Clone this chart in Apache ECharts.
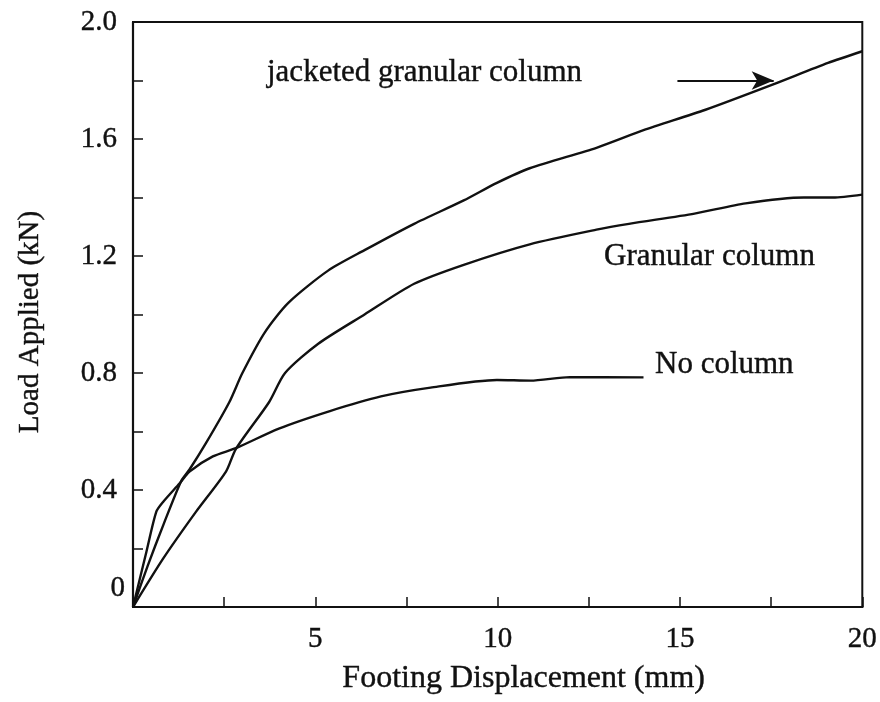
<!DOCTYPE html>
<html>
<head>
<meta charset="utf-8">
<script src="https://cdn.jsdelivr.net/npm/echarts@6/dist/echarts.min.js"></script>
<style>
html,body{margin:0;padding:0;background:#fff;}
#chart{width:880px;height:702px;}
</style>
</head>
<body>
<div id="chart"></div>
<script>
// Footing displacement (mm) / load applied (kN)
var jacketedX = [0, 0.4, 0.83, 1.32, 1.55, 2.0, 2.64, 3.0, 3.62, 4.26, 5.35, 6.35, 7.71, 9.07, 9.98, 10.88, 12.71, 14.0, 15.7, 17.52, 19.06, 20.0];
var jacketedY = [0, 0.14, 0.28, 0.43, 0.47, 0.56, 0.70, 0.80, 0.94, 1.04, 1.15, 1.22, 1.31, 1.39, 1.45, 1.50, 1.57, 1.63, 1.70, 1.785, 1.86, 1.90];

var granularX = [0, 0.83, 1.73, 2.55, 2.82, 3.73, 4.17, 5.08, 6.35, 7.71, 9.07, 10.88, 12.71, 13.6, 15.4, 16.8, 18.4, 19.2, 20.0];
var granularY = [0, 0.166, 0.326, 0.463, 0.54, 0.70, 0.80, 0.90, 1.00, 1.105, 1.17, 1.24, 1.29, 1.31, 1.345, 1.38, 1.40, 1.40, 1.41];

var noColumnX = [0, 0.37, 0.64, 0.83, 1.28, 1.55, 2.19, 2.82, 4.0, 5.4, 6.8, 8.16, 9.98, 10.9, 11.98, 14.0];
var noColumnY = [0, 0.19, 0.326, 0.36, 0.423, 0.463, 0.515, 0.543, 0.61, 0.67, 0.72, 0.75, 0.776, 0.774, 0.786, 0.785];

var seriesNames = ['jacketed granular column', 'Granular column', 'No column'];
var xTickLabels = ['5', '10', '15', '20'];
var yTickLabels = ['0', '0.4', '0.8', '1.2', '1.6', '2.0'];
var arrowFrom = [14.93, 1.80];
var arrowTo = [17.57, 1.80];

function pairs(xs, ys) { return xs.map(function (x, i) { return [x, ys[i]]; }); }

var FONT = '"Liberation Serif", "Times New Roman", serif';
var INK = '#111';
var HEAVY = { textBorderColor: INK, textBorderWidth: 0.4 };

var chart = echarts.init(document.getElementById('chart'));

var lineStyle = { color: INK, width: 2.4 };

chart.setOption({
  backgroundColor: '#fff',
  animation: false,
  grid: { left: 133, right: 12, top: 22, bottom: 95, show: true, borderColor: INK, borderWidth: 2, backgroundColor: 'transparent' },
  xAxis: {
    type: 'value', min: 0, max: 20, interval: 2.5,
    name: 'Footing Displacement (mm)', nameLocation: 'middle', nameGap: 56,
    nameTextStyle: Object.assign({ fontFamily: FONT, fontSize: 32, color: INK, padding: [0, 0, 0, 52] }, HEAVY),
    axisLine: { show: true, lineStyle: { color: INK, width: 2.2 } },
    axisTick: { show: true, inside: true, length: 10, lineStyle: { color: INK, width: 1.5 } },
    splitLine: { show: false },
    axisLabel: Object.assign({
      margin: 18, fontFamily: FONT, fontSize: 29, color: INK,
      formatter: function (v) { var s = String(v); return xTickLabels.indexOf(s) >= 0 ? s : ''; }
    }, HEAVY)
  },
  yAxis: {
    type: 'value', min: 0, max: 2.0, interval: 0.2,
    name: 'Load Applied (kN)', nameLocation: 'middle', nameGap: 88, nameRotate: 90,
    nameTextStyle: Object.assign({ fontFamily: FONT, fontSize: 29, color: INK, padding: [0, 15, 0, 0] }, HEAVY),
    axisLine: { show: true, lineStyle: { color: INK, width: 2.2 } },
    axisTick: { show: true, inside: true, length: 10, lineStyle: { color: INK, width: 1.5 } },
    splitLine: { show: false },
    axisLabel: {
      margin: 8, fontFamily: FONT, fontSize: 29, color: INK,
      formatter: function (v) {
        var s = (Math.abs(v) < 1e-9) ? '0' : v.toFixed(1);
        if (yTickLabels.indexOf(s) < 0) return '';
        return s === '0' ? '{z|' + s + '}' : '{n|' + s + '}';
      },
      rich: {
        n: Object.assign({ fontFamily: FONT, fontSize: 29, color: INK, padding: [0, 8, 0, 0] }, HEAVY),
        z: Object.assign({ fontFamily: FONT, fontSize: 29, color: INK, padding: [0, 0, 38, 0] }, HEAVY)
      }
    }
  },
  series: [
    {
      name: seriesNames[0], type: 'line', data: pairs(jacketedX, jacketedY), smooth: 0.25,
      showSymbol: false, lineStyle: lineStyle, itemStyle: { color: INK },
      markLine: {
        silent: true, symbol: ['none', 'arrow'], symbolSize: [14, 22],
        label: { show: false },
        lineStyle: { color: INK, width: 2, type: 'solid' },
        data: [[{ coord: arrowFrom }, { coord: arrowTo }]]
      }
    },
    { name: seriesNames[1], type: 'line', data: pairs(granularX, granularY), smooth: 0.25, showSymbol: false, lineStyle: lineStyle, itemStyle: { color: INK } },
    { name: seriesNames[2], type: 'line', data: pairs(noColumnX, noColumnY), smooth: 0.25, showSymbol: false, lineStyle: lineStyle, itemStyle: { color: INK } }
  ],
  graphic: [
    { type: 'text', x: 267, y: 73, style: { text: seriesNames[0], font: '31px ' + FONT, fill: INK, verticalAlign: 'middle', stroke: INK, lineWidth: 0.4 } },
    { type: 'text', x: 604, y: 257, style: { text: seriesNames[1], font: '31px ' + FONT, fill: INK, verticalAlign: 'middle', stroke: INK, lineWidth: 0.4 } },
    { type: 'text', x: 655, y: 365, style: { text: seriesNames[2], font: '31px ' + FONT, fill: INK, verticalAlign: 'middle', stroke: INK, lineWidth: 0.4 } }
  ]
});
</script>
</body>
</html>
